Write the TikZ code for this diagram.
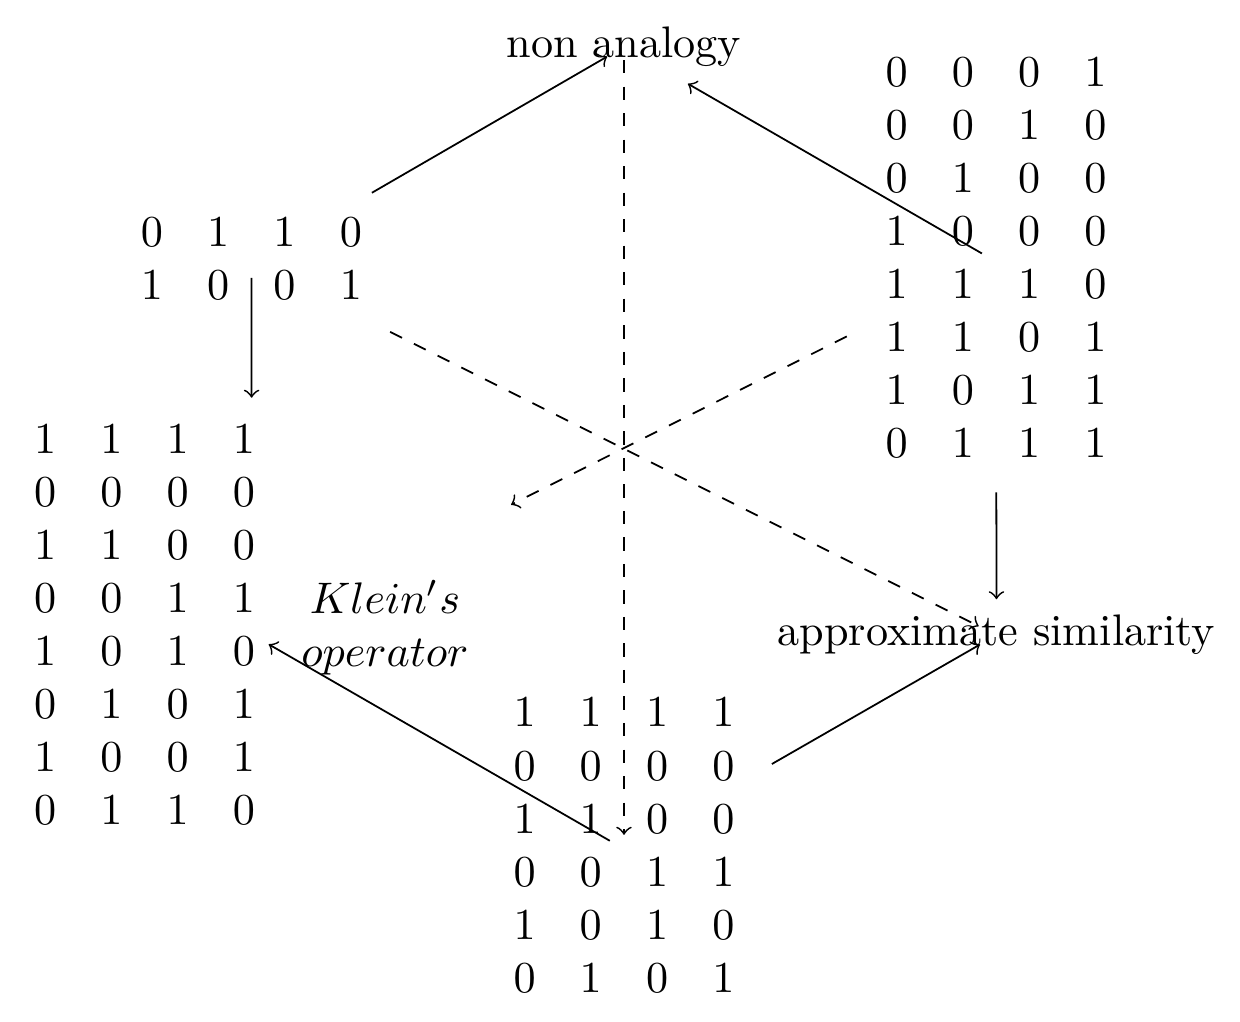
\documentclass[tikz,border=0pt]{standalone}
\usetikzlibrary{positioning, calc, arrows}
\tikzset{link/.style={->}}
\tikzset{hidden/.style={->, dashed}}

\begin{document}
\begin{tikzpicture}

  \useasboundingbox (-141.2pt,-130.3pt) rectangle (139.4pt,100.9pt);

  \node (na) at (0pt,90.3pt) {non analogy};
  \node (tl) at (-84.3pt,41.5pt) {$\begin{array}{cccc}0&1&1&0\\1&0&0&1\end{array}$};
  \node (tr) at (84.2pt,41.7pt) {$\begin{array}{cccc}0&0&0&1\\0&0&1&0\\0&1&0&0\\1&0&0&0\\1&1&1&0\\1&1&0&1\\1&0&1&1\\0&1&1&1\end{array}$};
  \node (lm) at (-108.5pt,-41.3pt) {$\begin{array}{cccc}1&1&1&1\\0&0&0&0\\1&1&0&0\\0&0&1&1\\1&0&1&0\\0&1&0&1\\1&0&0&1\\0&1&1&0\end{array}$};
  \coordinate (lmv) at (-84.2pt,-42.7pt);
  \node (as) at (84.3pt,-42.8pt) {approximate similarity};
  \node (bm) at (0pt,-91.2pt) {$\begin{array}{cccc}1&1&1&1\\0&0&0&0\\1&1&0&0\\0&0&1&1\\1&0&1&0\\0&1&0&1\end{array}$};
  \node[align=center] (ko) at (-54.1pt,-41.2pt) {$Klein's$\\$operator$};

  \draw[link, shorten <=31.5pt, shorten >=4.4pt] (tl.center) -- (na.center);
  \draw[link, shorten <=3.7pt, shorten >=16.7pt] (tr.center) -- (na.center);
  \draw[link, shorten <=3.5pt, shorten >=53.6pt] (tl.center) -- (lmv);
  \draw[link, shorten <=52.2pt, shorten >=8.1pt] (tr.center) -- (as.center);
  \draw[link, shorten <=38.6pt, shorten >=4.3pt] (bm.center) -- (as.center);
  \draw[link, shorten <=3.7pt, shorten >=4.4pt] (bm.center) -- (lmv);

  \draw[hidden, shorten <=3pt, shorten >=3.2pt] (na.center) -- (bm.center);
  \draw[hidden, shorten <=35.1pt, shorten >=4.5pt] (tl.center) -- (as.center);
  \draw[hidden, shorten <=37.8pt, shorten >=65.6pt] (tr.center) -- (lmv);

\end{tikzpicture}
\end{document}
